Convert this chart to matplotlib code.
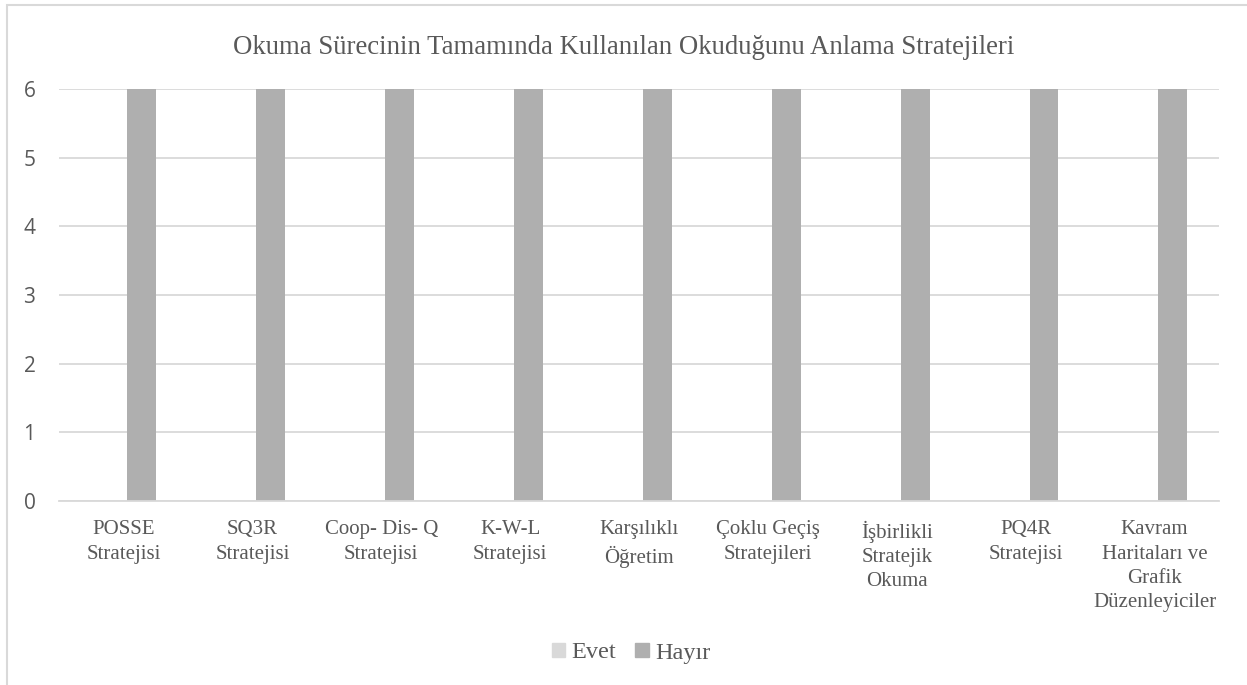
import matplotlib.pyplot as plt
import numpy as np
from matplotlib.patches import Patch, Rectangle

# dati
strategie = [
    "POSSE\nStratejisi",
    "SQ3R\nStratejisi",
    "Coop- Dis- Q\nStratejisi",
    "K-W-L\nStratejisi",
    "Karşılıklı\nÖğretim",
    "Çoklu Geçiş\nStratejileri",
    "İşbirlikli\nStratejik\nOkuma",
    "PQ4R\nStratejisi",
    "Kavram\nHaritaları ve\nGrafik\nDüzenleyiciler",
]
evet = [0, 0, 0, 0, 0, 0, 0, 0, 0]
hayir = [6, 6, 6, 6, 6, 6, 6, 6, 6]

titolo = "Okuma Sürecinin Tamamında Kullanılan Okuduğunu Anlama Stratejileri"
c_evet = "#d9d9d9"
c_hayir = "#afafaf"
c_testo = "#595959"
serif = "Liberation Serif"

fig = plt.figure(figsize=(12.47, 6.85), dpi=100)
ax = fig.add_axes([59 / 1247, 184 / 685, 1160 / 1247, 412 / 685])

x = np.arange(len(strategie))
w = 0.224
ax.bar(x - 0.142, evet, w, color=c_evet, label="Evet")
ax.bar(x + 0.142, hayir, w, color=c_hayir, label="Hayır")

ax.set_xlim(-0.5, len(strategie) - 0.5)
ax.set_ylim(0, 6)
ax.set_yticks(range(7))
ax.yaxis.grid(True, color="#d9d9d9", lw=1.3)
ax.set_axisbelow(True)
for s in ["top", "right", "left"]:
    ax.spines[s].set_visible(False)
ax.spines["bottom"].set_color("#d9d9d9")
ax.spines["bottom"].set_linewidth(1.3)
ax.tick_params(axis="both", length=0)
ax.tick_params(axis="y", pad=17, labelsize=15, labelcolor=c_testo)
ax.tick_params(axis="x", pad=14)
for t in ax.get_yticklabels():
    t.set_family("Open Sans")

ax.set_xticks(x)
ax.set_xticklabels(strategie, family=serif, fontsize=15, color=c_testo,
                   linespacing=1.38, va="top")

fig.text(0.5, 1 - 48 / 685, titolo, ha="center", va="center",
         family=serif, fontsize=19.3, color=c_testo)

handles = [Patch(color=c_evet, label="Evet"), Patch(color=c_hayir, label="Hayır")]
fig.legend(handles=handles, loc="center", bbox_to_anchor=(631 / 1247, 1 - 653 / 685),
           ncol=2, frameon=False, prop={"family": serif, "size": 17.5},
           handlelength=0.55, handleheight=0.55, handletextpad=0.25,
           columnspacing=0.8, labelcolor=c_testo)

# bordo dell'area grafico (tagliato a destra e in basso)
fig.add_artist(Rectangle((7 / 1247, -0.1), 2, 1.1 - 5.5 / 685,
                         transform=fig.transFigure, fill=False,
                         edgecolor="#d9d9d9", lw=1.5))

fig.savefig("out.png", dpi=100)
